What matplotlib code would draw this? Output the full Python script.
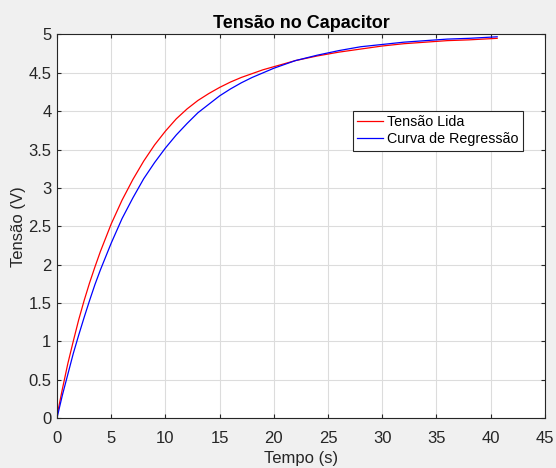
import matplotlib
matplotlib.use("Agg")
import matplotlib.pyplot as plt

plt.rcParams["font.family"] = ["Liberation Sans", "DejaVu Sans"]

# valores
t_lida = [0, 0.5, 1, 1.5, 2, 2.5, 3, 3.5, 4, 5, 6, 7, 8, 9, 10, 11, 12, 13,
          14, 15, 16, 17, 18, 19, 20, 22, 24, 26, 28, 30, 32, 34, 36, 38, 40.6]
v_lida = [0.03, 0.38, 0.71, 1.00, 1.28, 1.53, 1.76, 1.97, 2.17, 2.53, 2.84,
          3.11, 3.35, 3.56, 3.74, 3.90, 4.03, 4.14, 4.23, 4.31, 4.38, 4.44,
          4.49, 4.54, 4.58, 4.66, 4.72, 4.77, 4.81, 4.85, 4.88, 4.90, 4.92,
          4.93, 4.95]

t_reg = [0, 0.5, 1, 1.5, 2, 2.5, 3, 3.5, 4, 5, 6, 7, 8, 9, 10, 11, 12, 13,
         14, 15, 16, 17, 18, 20, 22, 24, 26, 28, 30, 32, 34, 36, 38, 40.6]
v_reg = [0.0, 0.30, 0.57, 0.84, 1.08, 1.31, 1.53, 1.74, 1.93, 2.28, 2.60,
         2.87, 3.12, 3.33, 3.52, 3.69, 3.84, 3.98, 4.09, 4.20, 4.29, 4.37,
         4.44, 4.56, 4.66, 4.73, 4.79, 4.84, 4.87, 4.90, 4.92, 4.94, 4.95,
         4.97]

x_ticks = [0, 5, 10, 15, 20, 25, 30, 35, 40, 45]
y_ticks = [0, 0.5, 1, 1.5, 2, 2.5, 3, 3.5, 4, 4.5, 5]
y_labels = ["0", "0.5", "1", "1.5", "2", "2.5", "3", "3.5", "4", "4.5", "5"]

fig = plt.figure(figsize=(5.56, 4.68), dpi=100, facecolor="#f0f0f0")
ax = fig.add_axes([0.1025, 0.1068, 0.8775, 0.8195])
ax.set_facecolor("white")

ax.plot(t_lida, v_lida, color="#ff0000", lw=0.9, label="Tensão Lida")
ax.plot(t_reg, v_reg, color="#0000ff", lw=0.9, label="Curva de Regressão")

ax.set_xlim(0, 45)
ax.set_ylim(0, 5)
ax.set_xticks(x_ticks)
ax.set_yticks(y_ticks)
ax.set_yticklabels(y_labels)
ax.grid(True, color="#dcdcdc", lw=0.8)
ax.set_axisbelow(True)

for s in ax.spines.values():
    s.set_color("#262626")
    s.set_linewidth(0.8)
ax.tick_params(direction="in", length=3, width=0.8, colors="#262626",
               labelsize=12, top=True, right=True)
ax.tick_params(axis="x", pad=9)
ax.tick_params(axis="y", pad=4)

ax.set_title("Tensão no Capacitor", fontsize=13, fontweight="bold", pad=5)
ax.set_xlabel("Tempo (s)", fontsize=12, color="#262626", labelpad=4)
ax.set_ylabel("Tensão (V)", fontsize=12, color="#262626", labelpad=2)

leg = ax.legend(loc="upper left", bbox_to_anchor=(0.607, 0.80), fontsize=10.3,
                frameon=True, fancybox=False, handlelength=1.8,
                handletextpad=0.25, borderpad=0.3, labelspacing=0.2,
                borderaxespad=0)
leg.get_frame().set_edgecolor("#262626")
leg.get_frame().set_linewidth(0.8)
leg.get_frame().set_alpha(1)

fig.savefig("out.png", dpi=100, facecolor=fig.get_facecolor())
